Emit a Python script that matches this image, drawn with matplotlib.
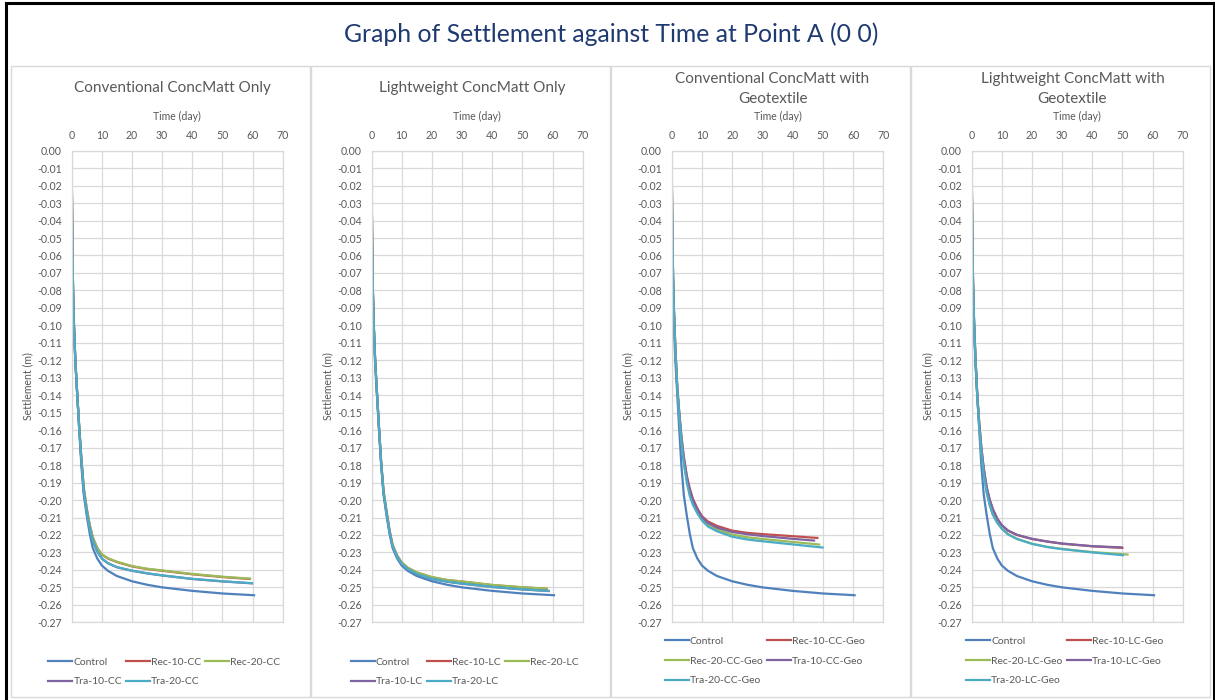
import matplotlib
matplotlib.use("Agg")
import matplotlib.pyplot as plt
from matplotlib.lines import Line2D
from matplotlib.patches import Rectangle
from matplotlib.ticker import MultipleLocator, FuncFormatter

plt.rcParams['font.family'] = ['Lato', 'DejaVu Sans']

W, H = 1215, 700

# time grids (day); the last point of each series is its own end day
days_only = [0, 0.05, 0.2, 0.45, 0.75, 1.2, 1.85, 2.5, 3.2, 4, 5, 6, 7, 8.5, 10, 12, 15, 20, 25, 30, 40, 50]
days_geo = [0, 0.05, 0.2, 0.45, 0.75, 1.2, 1.85, 2.5, 3.2, 4, 5, 6, 7, 8.5, 10, 12, 15, 20, 25, 30, 40]

# control (no mattress), same in every panel
control_days = [0, 0.05, 0.2, 0.45, 0.75, 1.2, 1.85, 2.5, 3.2, 4, 5, 6, 7, 8.5, 10, 12, 15, 20, 25, 30,
                40, 50, 60.5]
control = [0, -0.02, -0.05, -0.08, -0.10, -0.12, -0.14, -0.16, -0.18, -0.197, -0.209, -0.2195, -0.2275,
           -0.2335, -0.2375, -0.2405, -0.2435, -0.2465, -0.2485, -0.2500, -0.2520, -0.2535, -0.2545]

# conventional ConcMatt only
rec10_cc = [0, -0.02, -0.05, -0.08, -0.10, -0.12, -0.14, -0.158, -0.176, -0.193, -0.205, -0.2145, -0.2215,
            -0.2275, -0.2312, -0.2335, -0.2355, -0.2380, -0.2395, -0.2405, -0.2425, -0.2441, -0.2452]
rec20_cc = [0, -0.02, -0.05, -0.08, -0.10, -0.12, -0.14, -0.158, -0.176, -0.193, -0.205, -0.2145, -0.2215,
            -0.2275, -0.2310, -0.2333, -0.2353, -0.2378, -0.2393, -0.2403, -0.2423, -0.2439, -0.2450]
tra10_cc = [0, -0.02, -0.05, -0.08, -0.10, -0.12, -0.14, -0.159, -0.177, -0.195, -0.207, -0.2165, -0.2235,
            -0.2295, -0.2335, -0.2362, -0.2385, -0.2405, -0.2420, -0.2432, -0.2452, -0.2466, -0.2477]
tra20_cc = [0, -0.02, -0.05, -0.08, -0.10, -0.12, -0.14, -0.159, -0.177, -0.195, -0.207, -0.2165, -0.2235,
            -0.2295, -0.2334, -0.2361, -0.2384, -0.2404, -0.2419, -0.2431, -0.2451, -0.2465, -0.2476]
ends_cc = [59.0, 59.2, 59.8, 59.8]

# lightweight ConcMatt only
rec10_lc = [0, -0.02, -0.05, -0.08, -0.10, -0.12, -0.14, -0.159, -0.178, -0.195, -0.2065, -0.2175, -0.2258,
            -0.2318, -0.2358, -0.2388, -0.2415, -0.2442, -0.2458, -0.2467, -0.2487, -0.2500, -0.2508]
rec20_lc = [0, -0.02, -0.05, -0.08, -0.10, -0.12, -0.14, -0.159, -0.178, -0.195, -0.2065, -0.2175, -0.2258,
            -0.2318, -0.2357, -0.2387, -0.2414, -0.2441, -0.2457, -0.2466, -0.2486, -0.2499, -0.2507]
tra10_lc = [0, -0.02, -0.05, -0.08, -0.10, -0.12, -0.14, -0.159, -0.179, -0.196, -0.2075, -0.2185, -0.2265,
            -0.2325, -0.2366, -0.2396, -0.2425, -0.2452, -0.2468, -0.2479, -0.2498, -0.2512, -0.2521]
tra20_lc = [0, -0.02, -0.05, -0.08, -0.10, -0.12, -0.14, -0.159, -0.179, -0.196, -0.2075, -0.2185, -0.2265,
            -0.2325, -0.2365, -0.2395, -0.2424, -0.2451, -0.2467, -0.2478, -0.2497, -0.2511, -0.2520]
ends_lc = [58.0, 58.1, 58.7, 58.7]

# conventional ConcMatt with geotextile
rec10_cc_geo = [0, -0.018, -0.045, -0.072, -0.092, -0.113, -0.136, -0.150, -0.163, -0.175, -0.186, -0.1935,
                -0.1992, -0.2048, -0.2092, -0.2123, -0.2148, -0.2175, -0.2188, -0.2195, -0.2207, -0.2217]
rec20_cc_geo = [0, -0.018, -0.045, -0.072, -0.092, -0.113, -0.136, -0.151, -0.165, -0.178, -0.189, -0.1965,
                -0.2017, -0.2068, -0.2110, -0.2143, -0.2168, -0.2198, -0.2213, -0.2223, -0.2240, -0.2255]
tra10_cc_geo = [0, -0.018, -0.045, -0.072, -0.092, -0.113, -0.136, -0.150, -0.164, -0.176, -0.187, -0.1945,
                -0.2000, -0.2055, -0.2100, -0.2131, -0.2158, -0.2183, -0.2196, -0.2206, -0.2222, -0.2232]
tra20_cc_geo = [0, -0.018, -0.045, -0.072, -0.092, -0.113, -0.136, -0.152, -0.166, -0.179, -0.190, -0.1978,
                -0.2027, -0.2077, -0.2117, -0.2152, -0.2179, -0.2210, -0.2226, -0.2236, -0.2254, -0.2272]
ends_cc_geo = [48.2, 48.8, 47.1, 49.9]

# lightweight ConcMatt with geotextile
rec10_lc_geo = [0, -0.02, -0.048, -0.076, -0.096, -0.117, -0.140, -0.156, -0.170, -0.182, -0.193, -0.2000,
                -0.2052, -0.2108, -0.2145, -0.2175, -0.2200, -0.2223, -0.2238, -0.2250, -0.2265, -0.2274]
rec20_lc_geo = [0, -0.02, -0.048, -0.076, -0.096, -0.117, -0.141, -0.158, -0.172, -0.185, -0.196, -0.2030,
                -0.2083, -0.2130, -0.2163, -0.2195, -0.2222, -0.2250, -0.2268, -0.2280, -0.2298, -0.2312]
tra10_lc_geo = [0, -0.02, -0.048, -0.076, -0.096, -0.117, -0.140, -0.156, -0.170, -0.182, -0.193, -0.2000,
                -0.2052, -0.2108, -0.2144, -0.2174, -0.2199, -0.2222, -0.2237, -0.2249, -0.2264, -0.2271]
tra20_lc_geo = [0, -0.02, -0.048, -0.076, -0.096, -0.117, -0.141, -0.158, -0.172, -0.185, -0.196, -0.2030,
                -0.2083, -0.2131, -0.2164, -0.2196, -0.2223, -0.2251, -0.2269, -0.2281, -0.2300, -0.2316]
ends_lc_geo = [50.0, 51.7, 49.7, 50.2]

panel_titles = ["Conventional ConcMatt Only", "Lightweight ConcMatt Only",
                "Conventional ConcMatt with\nGeotextile", "Lightweight ConcMatt with\nGeotextile"]
suffixes = ["CC", "LC", "CC-Geo", "LC-Geo"]
panel_series = [(days_only, [rec10_cc, rec20_cc, tra10_cc, tra20_cc], ends_cc),
                (days_only, [rec10_lc, rec20_lc, tra10_lc, tra20_lc], ends_lc),
                (days_geo, [rec10_cc_geo, rec20_cc_geo, tra10_cc_geo, tra20_cc_geo], ends_cc_geo),
                (days_geo, [rec10_lc_geo, rec20_lc_geo, tra10_lc_geo, tra20_lc_geo], ends_lc_geo)]

colors = {"Control": "#4F81BD", "Rec-10": "#C0504D", "Rec-20": "#9BBB59",
          "Tra-10": "#8064A2", "Tra-20": "#4BACC6"}
grey_text = "#595959"
grid_col = "#D9D9D9"

# panel frames (pixels): left, right
frames = [(11, 310), (311, 610), (611, 910), (911, 1210)]
axes_x = [(71.7, 282.7), (371.5, 582.7), (671.7, 883.3), (971.7, 1182.7)]
ax_top, ax_bot = 150.7, 622.3

fig = plt.figure(figsize=(W / 100, H / 100), dpi=100)
fig.patch.set_facecolor("white")


def px(x, y):
    return x / W, 1 - y / H


# outer border and title band
frame_ax = fig.add_axes([0, 0, 1, 1])
frame_ax.set_xlim(0, W)
frame_ax.set_ylim(H, 0)
frame_ax.axis("off")
frame_ax.plot([6, 6], [3, 700], color="black", lw=2.2)
frame_ax.plot([1213.5, 1213.5], [3, 700], color="black", lw=2.2)
frame_ax.plot([6, 1213.5], [3, 3], color="black", lw=2.2)
for left, right in frames:
    frame_ax.add_patch(Rectangle((left, 66), right - left, 631, fill=False,
                                 edgecolor="#D9D9D9", lw=1.0))

fig.text(*px(611, 34), "Graph of Settlement against Time at Point A (0 0)",
         ha="center", va="center", fontsize=17.8, color="#1F3A70")

for i in range(4):
    x0, x1 = axes_x[i]
    ax = fig.add_axes([x0 / W, 1 - ax_bot / H, (x1 - x0) / W, (ax_bot - ax_top) / H])
    days, series, ends = panel_series[i]
    sfx = suffixes[i]

    ax.plot(control_days, control, color=colors["Control"], lw=1.6)
    names = ["Rec-10", "Rec-20", "Tra-10", "Tra-20"]
    handles = {"Control": Line2D([], [], color=colors["Control"], lw=1.6)}
    for name, vals, end in zip(names, series, ends):
        ax.plot(days + [end], vals, color=colors[name], lw=1.6)
        handles[name] = Line2D([], [], color=colors[name], lw=1.6)

    ax.set_xlim(0, 70)
    ax.set_ylim(-0.27, 0)
    ax.xaxis.set_major_locator(MultipleLocator(10))
    ax.yaxis.set_major_locator(MultipleLocator(0.01))
    ax.yaxis.set_major_formatter(FuncFormatter(lambda v, p: "%.2f" % (0.0 if abs(v) < 1e-9 else v)))
    ax.xaxis.tick_top()
    ax.xaxis.set_label_position("top")
    ax.grid(True, color=grid_col, lw=0.9)
    ax.set_axisbelow(True)
    for s in ax.spines.values():
        s.set_color(grid_col)
        s.set_linewidth(0.9)
    ax.tick_params(length=0, labelsize=7.6, labelcolor=grey_text)
    ax.tick_params(axis="x", pad=7)
    ax.tick_params(axis="y", pad=7)
    ax.set_xlabel("Time (day)", fontsize=7.6, color=grey_text, labelpad=7)
    ax.set_ylabel("Settlement (m)", fontsize=7.6, color=grey_text, labelpad=3)

    cx = (frames[i][0] + frames[i][1]) / 2 + 12
    if "\n" in panel_titles[i]:
        fig.text(*px(cx, 89), panel_titles[i], ha="center", va="center",
                 fontsize=11, color=grey_text, linespacing=1.6)
    else:
        fig.text(*px(cx, 88), panel_titles[i], ha="center", va="center",
                 fontsize=11, color=grey_text)

    # legend laid out row by row like the spreadsheet legend
    lab = {n: n + "-" + sfx for n in names}
    lab["Control"] = "Control"
    if i < 2:
        order = ["Control", "Tra-10", "Rec-10", "Tra-20", "Rec-20"]
        ncol = 3
        ly = 672
    else:
        order = ["Control", "Rec-20", "Tra-20", "Rec-10", "Tra-10"]
        ncol = 2
        ly = 661
    cx_leg = (frames[i][0] + frames[i][1]) / 2 + 4
    fig.legend([handles[k] for k in order], [lab[k] for k in order],
               loc="center", bbox_to_anchor=px(cx_leg, ly), ncol=ncol, frameon=False,
               fontsize=7.5, labelcolor=grey_text, handlelength=2.3, handletextpad=0.1,
               columnspacing=0.4, labelspacing=1.0, borderpad=0)

fig.savefig("out.png", dpi=100, facecolor="white")
